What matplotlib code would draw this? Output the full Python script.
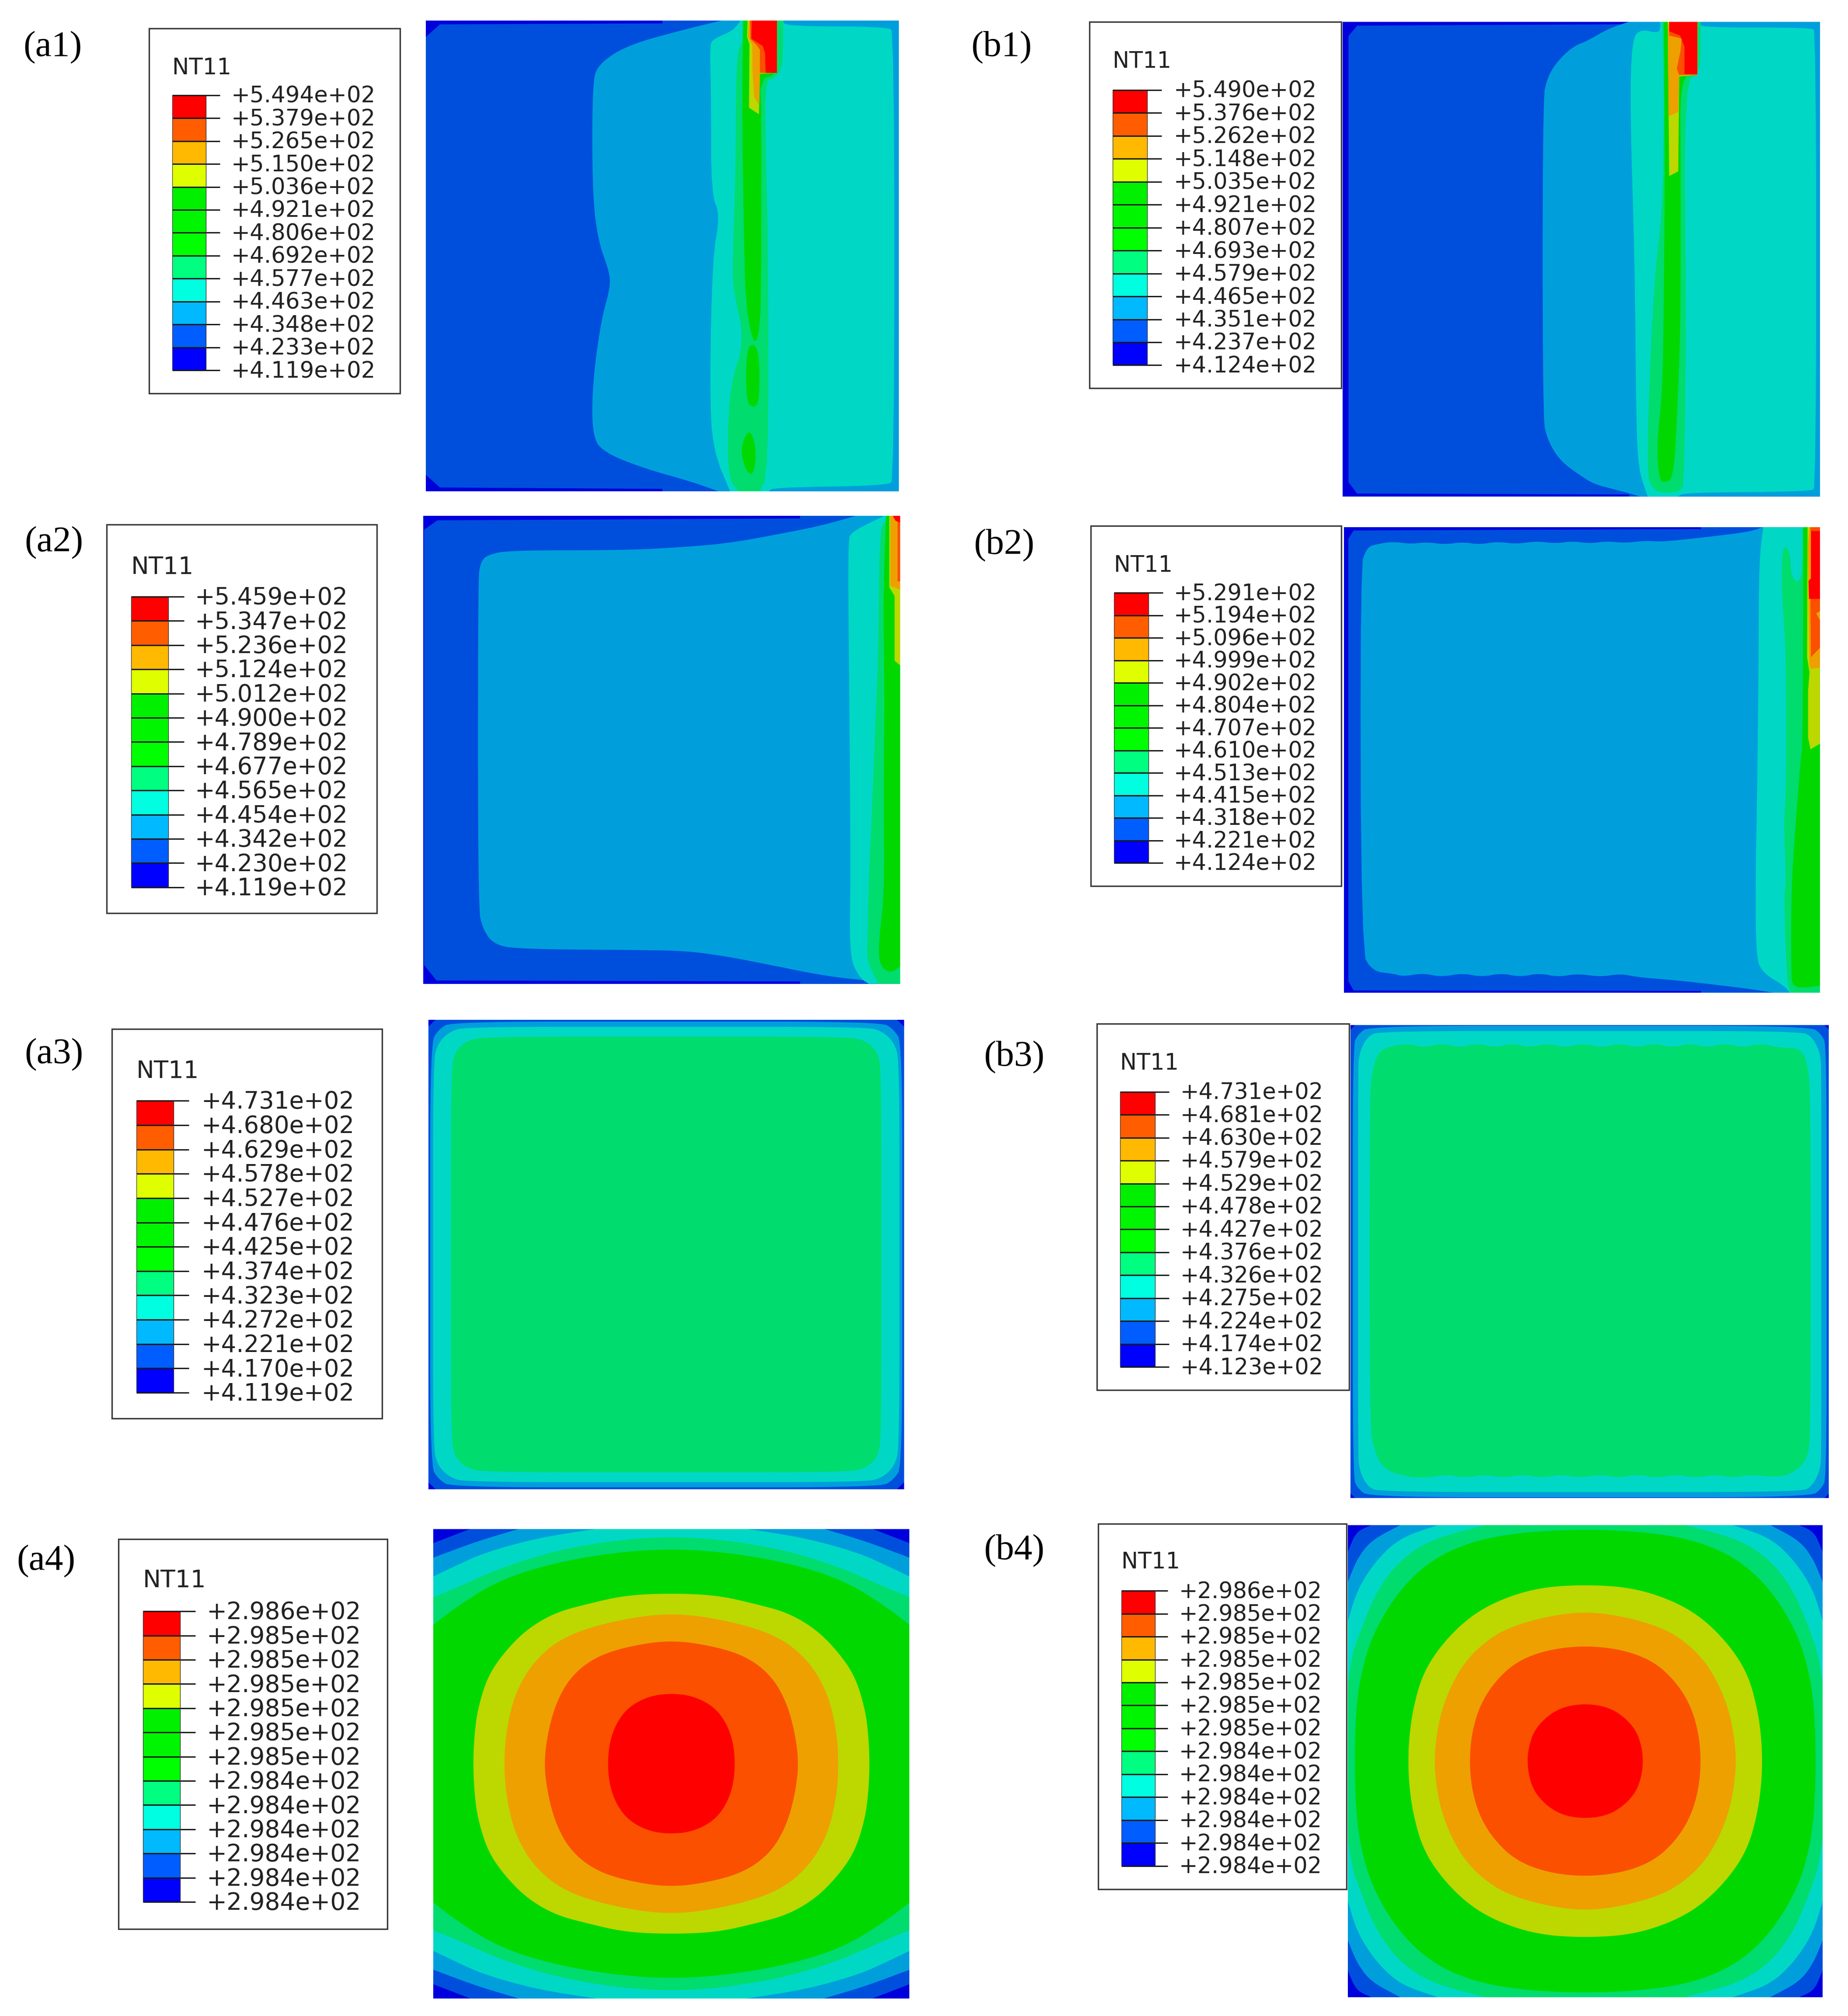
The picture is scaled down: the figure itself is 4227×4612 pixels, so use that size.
import numpy as np
import matplotlib
matplotlib.use("Agg")
import matplotlib.pyplot as plt
from matplotlib.patches import Rectangle

# colours of the contour bands, as they look on the shaded maps
DK = "#0000dc"
B2 = "#004fdc"
MID = "#009fdc"
TEAL = "#00d8c5"
LG = "#00dc6e"
GR = "#00d800"
YG = "#bcd800"
OR = "#eda000"
OR2 = "#fa5000"
RED = "#ff0000"

# legend colours from top to bottom
LEGEND_COLORS = ["#ff0000", "#ff5d00", "#ffb900", "#dfff00", "#00f000", "#00f500",
                 "#00ff00", "#00ff80", "#00ffe0", "#00b9ff", "#005dff", "#0000ff"]

# legend values
A1_LABELS = ["+5.494e+02", "+5.379e+02", "+5.265e+02", "+5.150e+02", "+5.036e+02", "+4.921e+02", "+4.806e+02",
             "+4.692e+02", "+4.577e+02", "+4.463e+02", "+4.348e+02", "+4.233e+02", "+4.119e+02"]
A2_LABELS = ["+5.459e+02", "+5.347e+02", "+5.236e+02", "+5.124e+02", "+5.012e+02", "+4.900e+02", "+4.789e+02",
             "+4.677e+02", "+4.565e+02", "+4.454e+02", "+4.342e+02", "+4.230e+02", "+4.119e+02"]
A3_LABELS = ["+4.731e+02", "+4.680e+02", "+4.629e+02", "+4.578e+02", "+4.527e+02", "+4.476e+02", "+4.425e+02",
             "+4.374e+02", "+4.323e+02", "+4.272e+02", "+4.221e+02", "+4.170e+02", "+4.119e+02"]
A4_LABELS = ["+2.986e+02", "+2.985e+02", "+2.985e+02", "+2.985e+02", "+2.985e+02", "+2.985e+02", "+2.985e+02",
             "+2.984e+02", "+2.984e+02", "+2.984e+02", "+2.984e+02", "+2.984e+02", "+2.984e+02"]
B1_LABELS = ["+5.490e+02", "+5.376e+02", "+5.262e+02", "+5.148e+02", "+5.035e+02", "+4.921e+02", "+4.807e+02",
             "+4.693e+02", "+4.579e+02", "+4.465e+02", "+4.351e+02", "+4.237e+02", "+4.124e+02"]
B2_LABELS = ["+5.291e+02", "+5.194e+02", "+5.096e+02", "+4.999e+02", "+4.902e+02", "+4.804e+02", "+4.707e+02",
             "+4.610e+02", "+4.513e+02", "+4.415e+02", "+4.318e+02", "+4.221e+02", "+4.124e+02"]
B3_LABELS = ["+4.731e+02", "+4.681e+02", "+4.630e+02", "+4.579e+02", "+4.529e+02", "+4.478e+02", "+4.427e+02",
             "+4.376e+02", "+4.326e+02", "+4.275e+02", "+4.224e+02", "+4.174e+02", "+4.123e+02"]
B4_LABELS = ["+2.986e+02", "+2.985e+02", "+2.985e+02", "+2.985e+02", "+2.985e+02", "+2.985e+02", "+2.985e+02",
             "+2.984e+02", "+2.984e+02", "+2.984e+02", "+2.984e+02", "+2.984e+02", "+2.984e+02"]

# contour outlines, in percent of the map (x right, y down)
A1_DK = [(0, 0), (50, 0), (50, 0.6), (3, 0.8), (0, 3.5), (0, 96.5), (3, 99.2), (50, 99.5), (50, 100), (0, 100)]
A1_MID = [(62.5, 0), (55, 1.8), (42.6, 5.2), (36.4, 9.3), (35.2, 13.4), (35.2, 36.6), (36.4, 46.8), (38.9, 53.6),
          (38.9, 57.1), (37, 63.9), (35.2, 77.5), (35.2, 88.4), (37.7, 91.8), (46.3, 95.2), (56.3, 98), (61.8, 100),
          (100, 100), (100, 0)]
A1_TEAL = [(66.5, 0), (65, 2.1), (60.8, 3.9), (60, 5.2), (60.3, 16), (60.3, 36.6), (62.2, 41.4), (60.6, 50.2),
           (60, 77.5), (60.6, 91.1), (64.3, 100), (72.5, 100), (73.5, 99.2), (97.5, 98.8), (99, 97.5), (99, 2.5),
           (97.5, 1.3), (76, 1.2), (75.5, 0)]
A1_LG = [(66.9, 0), (66.9, 5), (66, 6), (65.5, 13), (65.5, 30), (64.9, 50), (64.9, 57), (67.4, 68), (64.3, 77.5),
         (63.7, 91), (64.3, 98), (66.2, 100), (70.5, 100), (72.4, 96.6), (72.4, 50), (71.7, 20), (72, 12.7),
         (73.4, 12.5), (75.5, 10), (75.5, 0)]
A1_GR = [(67.1, 0), (66.9, 12), (66.9, 23), (67.2, 45), (67.6, 60), (69, 68), (70.2, 68), (70.9, 60), (70.9, 20),
         (70.7, 12.5), (74.2, 11.3), (74.2, 0)]
A1_GR_LOBE1 = [(67.7, 70.7), (69, 68.3), (70.5, 70.7), (70.5, 80.9), (69.3, 82.4), (67.7, 80.9)]
A1_GR_LOBE2 = [(68.4, 86.4), (66.4, 91), (67.7, 95.9), (69.3, 96.6), (69.9, 91)]
A1_YG = [(68, 0), (67.9, 3.5), (68.4, 5), (68.3, 18.5), (70.4, 19.9), (70.6, 11.3), (74.2, 11.1), (74.2, 0)]
A1_OR = [(68.3, 0), (68.1, 3.5), (69, 5.2), (69, 10), (69.4, 16.3), (70.4, 17.9), (70.6, 11.1), (74.2, 11.1), (74.2, 0)]
A1_OR2 = [(68.5, 0), (68.6, 3.9), (70, 5.3), (70.6, 6.2), (70.6, 11.1), (74.2, 11.1), (74.2, 0)]
A1_RED = [(68.9, 0), (68.8, 3.85), (71.2, 5.4), (71.7, 7), (71.8, 11.1), (74.2, 11.1), (74.2, 0)]

A2_DK = [(0, 0), (79, 0), (79, 0.6), (3, 1), (0.2, 3), (0.2, 96), (2.8, 99.3), (79, 99.5), (79, 100), (0, 100)]
A2_MID = [(13.4, 8.4), (18, 7.4), (42.3, 7.4), (54.8, 6.7), (63.9, 5.9), (73.8, 4.1), (83.6, 2.1), (90.8, 0), (100, 0),
          (100, 100), (90.8, 99.1), (83.6, 98.2), (73.8, 96.2), (63.9, 94.2), (55.4, 93), (46.9, 92.8), (20, 92.6),
          (14.8, 91.6), (12.5, 88.3), (11.5, 83.7), (11.5, 13.9), (12, 10)]
A2_TEAL = [(96.7, 0), (89.8, 3.4), (89, 5.4), (89.3, 37.6), (89.6, 77), (89.3, 94.2), (91.5, 98.8), (93.4, 100),
           (100, 100), (100, 0)]
A2_LG = [(96.7, 0.8), (95.6, 4), (95.4, 29.7), (94.8, 44), (94.1, 62), (93.4, 77), (93.1, 91.6), (93.1, 95.5),
         (95.4, 100), (100, 100), (100, 0)]
A2_GR = [(97, 0), (96.4, 17.9), (96.7, 37.6), (96.5, 60.7), (96.7, 80.4), (95.4, 91.6), (95.7, 96.2), (98, 97.8),
         (100, 96.2), (100, 0)]
A2_YG = [(97.7, 0), (97.7, 15.3), (98.8, 17.2), (98.8, 31), (100, 32), (100, 0)]
A2_OR = [(97.9, 0), (97.9, 15), (100, 15.8), (100, 0)]
A2_OR2 = [(99.4, 1), (99.4, 14), (100, 14), (100, 1)]
A2_RED = [(98.4, 0), (99, 1.1), (100, 1.5), (100, 0)]

A3_BLUE = [(0, 52), (47.5, 51), (50, 48.5), (52, 0)]
A3_MID = [(0, 49.6), (45, 49.6), (47.8, 48), (49.6, 45), (49.6, 0)]
A3_TEAL = [(0, 48.5), (42, 48.5), (45.5, 47.5), (48, 45), (49, 41), (49, 0)]
A3_LG = [(0, 46.4), (38, 46.4), (42, 45.5), (44.6, 43), (45.2, 38), (45.2, 0)]

A4_BLUE = [(0, 55), (38, 52), (42.3, 50), (50, 47), (53, 40), (55, 0)]
A4_MID = [(0, 55), (28, 52), (32.1, 50), (40.8, 47.4), (50, 43.9), (53, 35), (55, 0)]
A4_TEAL = [(0, 54), (12, 52), (15.9, 50), (27.7, 48.2), (39.2, 45), (45.7, 42), (50, 39.9), (53, 30), (54, 0)]
A4_LG = [(0, 48.4), (11.3, 47.7), (24.4, 45.4), (35.9, 41.7), (44, 38), (50, 35.5), (53, 25), (54, 0)]
A4_GR = [(0, 45.9), (14.5, 44.7), (27.7, 42), (37.5, 38.4), (45.7, 33), (50, 29.6), (53, 20), (54, 0)]
A4_YG = [(0, 36.3), (9.6, 35.9), (17.8, 34), (24.4, 32.2), (30.3, 28.7), (34.9, 24), (38.5, 18.8), (40.5, 12.4),
         (41.3, 7.4), (41.7, 0)]
A4_OR = [(0, 32), (8, 31.2), (17.8, 28.9), (24.4, 25.9), (29.3, 21.2), (32.3, 16), (33.9, 11), (34.9, 5), (35.1, 0)]
A4_OR2 = [(0, 26.4), (9.6, 24.9), (16.2, 22.6), (21.1, 18.6), (24.1, 13.3), (25.9, 7), (26.8, 0)]
A4_RED = [(0, 15), (4.7, 14.4), (9, 12.1), (11.6, 8.6), (13, 4.5), (13.4, 0)]

B1_DK = [(0, 0), (60, 0), (60, 0.5), (3, 0.8), (1.2, 3), (1.2, 97), (3, 99.4), (60, 99.6), (60, 100), (0, 100)]
B1_MID = [(59.9, 0), (55.5, 1.5), (51.5, 3.9), (48.2, 5.2), (44.8, 8.5), (42.8, 11.9), (41.9, 16.5), (41.9, 83.2),
          (42.8, 87.9), (45.5, 92.5), (50.2, 95.9), (52.9, 97.5), (56.9, 98.5), (62.3, 100), (100, 100), (100, 0)]
B1_TEAL = [(62.3, 1.5), (60.6, 3.9), (60.2, 17.9), (61.2, 51.2), (61.5, 84.5), (62, 94.5), (63.9, 100), (70.3, 100),
           (71.5, 99.2), (98, 99), (99.2, 98), (99.2, 2), (98, 1.2), (75, 1.2), (74, 0), (66.5, 0), (66.5, 2.5)]
B1_LG = [(67, 0), (67.3, 17.9), (67, 39.2), (65.3, 54.5), (64.3, 74.5), (63.8, 91.2), (64.3, 99.2), (71, 99.2),
         (71.5, 96.5), (72, 64.5), (71.5, 12.5), (75, 10.9), (75, 0)]
B1_GR = [(67.3, 0), (67.5, 31.2), (67.3, 57.9), (67, 77.9), (65.8, 89.2), (66.3, 96.5), (67.6, 97.2), (69.3, 95.9),
         (70, 84.5), (70.8, 64.5), (70.8, 31.2), (70.7, 11.5), (74.3, 11.2), (74.3, 0)]
B1_YG = [(68.1, 0), (68.4, 32.5), (70.3, 31.5), (70.5, 11.5), (74.3, 11.2), (74.3, 0)]
B1_OR = [(68.1, 0.5), (68.3, 19.9), (70.3, 19), (70.5, 11.2), (74.3, 11.2), (74.3, 0)]
B1_OR2 = [(68.4, 0), (68.4, 2.9), (71, 3.5), (70.8, 6), (70, 9.9), (70.5, 11.2), (74.3, 11.2), (74.3, 0)]
B1_RED = [(68.4, 0), (68.4, 2), (70.7, 2.9), (71.6, 5.2), (71.6, 11), (74.3, 11), (74.3, 0)]

B2_DK = [(0, 0), (75, 0), (75, 0.4), (2, 0.7), (0.9, 2.5), (0.9, 97.5), (2, 99.5), (75, 99.6), (75, 100), (0, 100)]
B2_MID = [(4.8, 4.3), (7, 3.6), (10.3, 3.1), (13.9, 3.6), (17.5, 3.2), (21.1, 3.7), (24.8, 3.2), (28.5, 3.7), (32.2, 3.1),
          (36, 3.6), (40.6, 3), (44.4, 3.5), (48, 3), (51.6, 3.5), (55.2, 3), (59, 3.4), (63, 2.9), (66.8, 3.1), (70.9, 2.7),
          (78, 1.9), (85.5, 0.9), (87.9, 0), (100, 0), (100, 100), (90.3, 100), (85.5, 99.2), (70.9, 97.4), (62, 96.7),
          (58, 95.9), (54, 96.6), (49.1, 95.9), (45, 96.6), (41, 95.8), (37, 96.6), (33, 95.8), (29, 96.6), (24.8, 95.8),
          (20.5, 96.6), (16.5, 95.8), (12.5, 96.5), (10.3, 95.9), (6, 95.4), (3.6, 91.2), (3.4, 8.5)]
B2_TEAL = [(88.1, 0), (87.2, 6.8), (87.1, 30), (86.8, 58.3), (86.5, 72.1), (86.5, 92.6), (88.2, 95.9), (92.5, 98.5),
           (93.7, 100), (100, 100), (100, 0)]
B2_LG = [(92, 6.1), (92, 14.7), (92.7, 24), (92.9, 35.5), (92.9, 57), (92.4, 62.9), (92.9, 76.8), (92.4, 78.7),
         (93.1, 98.5), (94, 100), (100, 100), (100, 0), (96.3, 0), (96.3, 12), (94, 11.1), (93.7, 5.5), (92.6, 3.8)]
B2_GR = [(96.5, 0), (96.4, 46.4), (95.9, 50.4), (94.8, 64.9), (94, 77.4), (93.9, 95.2), (94.3, 99.2), (100, 98.5),
         (100, 0)]
B2_YG = [(97.4, 0), (97.3, 27.9), (97.8, 31.2), (97.5, 35.2), (97.5, 45.1), (98, 47.7), (100, 46.5), (100, 0)]
B2_OR = [(97.8, 0), (97.4, 4.2), (97.8, 29.2), (98, 30.4), (100, 30.2), (100, 0)]
B2_OR2 = [(98, 15.4), (98.1, 27.9), (100, 25.9), (100, 20), (99.2, 18.5), (100, 18), (100, 15.4)]
B2_OR2_TOP = [(98, 0), (98, 0.8), (100, 0.8), (100, 0)]
B2_RED = [(98.1, 0.8), (98.1, 11), (97.6, 11.5), (97.7, 15.4), (100, 15.4), (100, 0.8)]

B3_BLUE = [(0, 52), (48, 51), (50, 49), (52, 0)]
B3_MID = [(0, 49.8), (46, 49.8), (48.5, 48), (49.5, 45.5), (49.5, 0)]
B3_TEAL = [(0, 48.7), (44, 48.7), (46.5, 47.5), (48.2, 44), (48.4, 40), (48.4, 0)]
B3_LG = [(5.5, 6.5), (7, 4.9), (11.7, 3.9), (15.3, 4.8), (19, 3.9), (22.9, 4.8), (26.5, 3.9), (30.2, 4.8), (33.8, 3.9),
         (37.4, 4.8), (41, 3.9), (44.8, 4.8), (48.6, 3.9), (52.4, 4.8), (56.2, 3.9), (59.8, 4.8), (63.5, 3.9), (67.3, 4.8),
         (71, 3.9), (74.6, 4.8), (78.3, 3.9), (82, 4.8), (85.8, 3.9), (89.5, 4.8), (94, 4.9), (95.5, 8), (96.2, 15),
         (96.2, 86), (95.5, 92), (92, 95), (88.5, 95.6), (84, 95), (80, 95.7), (76, 95), (72, 95.7), (68, 95), (64, 95.7),
         (60, 95), (56, 95.7), (52, 95), (48, 95.7), (44, 95), (40, 95.7), (36, 95), (32, 95.7), (28, 95), (24, 95.7),
         (20, 95), (16, 95.7), (12, 95.5), (7, 94), (5, 90), (4, 85), (4, 16), (4.5, 10)]

B4_BLUE = [(0, 55), (42, 53), (45.1, 50), (48.3, 48.6), (50, 44.4), (53, 35), (55, 0)]
B4_MID = [(0, 54), (35, 53), (39, 50), (45.1, 46.8), (48.1, 42.8), (50, 38), (52, 30), (54, 0)]
B4_TEAL = [(0, 54), (25, 53), (31.1, 50), (38.9, 47.4), (44.1, 42.5), (48.1, 36.2), (50, 29.7), (52, 20), (54, 0)]
B4_LG = [(0, 52), (15, 51), (21, 50), (32.3, 47.1), (39.2, 42.5), (44.1, 35.8), (47.4, 27.5), (49.1, 22.6), (50, 16.6),
         (51, 10), (52, 0)]
B4_GR = [(0, 49.2), (14.5, 48.4), (24.4, 46.4), (32.6, 42.5), (39.2, 36.2), (44.5, 27.5), (47.1, 19.3), (48.3, 11),
         (48.6, 0)]
B4_YG = [(0, 37.4), (9.6, 36.8), (17.8, 34.3), (24.4, 30.6), (30.3, 24.7), (34.3, 18.4), (36.3, 11), (37.1, 5), (37.3, 0)]
B4_OR = [(0, 31.7), (8, 30.7), (16.2, 28.3), (21.1, 25.3), (25.4, 21), (28.4, 15.7), (30.4, 10.3), (31.4, 5), (31.8, 0)]
B4_OR2 = [(0, 24.5), (8, 23.6), (14.5, 21.1), (19.1, 16.8), (22.2, 11.8), (23.9, 6), (24.4, 0)]
B4_RED = [(0, 12.2), (4.7, 11.5), (8.2, 9.4), (10.8, 6.4), (11.9, 3), (12.2, 0)]

# layout below is in pixels of the reference at 1/2.942 of its full size
W, H = 1436.8, 1567.7
FIG_W, FIG_H = 42.27, 46.12


def mirror(quarter):
    # quarter curve (dx, dy from centre, top to right side) to a closed outline
    q = np.array(quarter, dtype=float)
    tr = np.column_stack([50 + q[:, 0], 50 - q[:, 1]])
    br = np.column_stack([50 + q[::-1, 0], 50 + q[::-1, 1]])[1:]
    bl = np.column_stack([50 - q[:, 0], 50 + q[:, 1]])[1:]
    tl = np.column_stack([50 - q[::-1, 0], 50 - q[::-1, 1]])[1:-1]
    return np.vstack([tr, br, bl, tl])


def smooth(poly, n=3):
    # corner cutting so outlines do not look faceted; points on the map border stay put
    p = np.array(poly, dtype=float)
    for _ in range(n):
        out = []
        for i in range(len(p)):
            a, b = p[i], p[(i + 1) % len(p)]
            a_fixed = a[0] <= 0 or a[0] >= 100 or a[1] <= 0 or a[1] >= 100
            b_fixed = b[0] <= 0 or b[0] >= 100 or b[1] <= 0 or b[1] >= 100
            out.append(a if a_fixed else 0.75 * a + 0.25 * b)
            out.append(b if b_fixed else 0.25 * a + 0.75 * b)
        p = np.array(out)
    return p


def add_rect(x0, y0, x1, y1):
    return fig.add_axes([x0 / W, 1 - y1 / H, (x1 - x0) / W, (y1 - y0) / H])


def draw_map(rect, base, layers):
    ax = add_rect(*rect)
    ax.set_xlim(0, 100)
    ax.set_ylim(100, 0)
    ax.axis("off")
    ax.add_patch(Rectangle((0, 0), 100, 100, color=base, lw=0))
    for color, poly in layers:
        p = np.array(poly)
        ax.fill(p[:, 0], p[:, 1], color=color, lw=0)


def draw_legend(box, bar, labels_x, labels_right, title_y, labels):
    canvas.add_patch(Rectangle((box[0], box[1]), box[2] - box[0], box[3] - box[1], fc="white", ec="#3a3a3a",
                               lw=2.4, zorder=5))
    size = 37 * (labels_right - labels_x) / 113.0
    canvas.text(bar[0], title_y + 1, "NT11", fontsize=size, ha="left", va="center", color="#222222", zorder=6)
    tick_end = bar[2]
    ax = add_rect(bar[0], bar[1], tick_end, bar[3])
    ax.set_zorder(7)
    ax.set_xlim(bar[0], tick_end)
    ax.set_ylim(12, 0)
    ax.axis("off")
    for i, c in enumerate(LEGEND_COLORS):
        ax.bar(bar[0], 1, width=bar[4] - bar[0], bottom=i, align="edge", color=c, edgecolor="none")
    ax.hlines(range(13), bar[0], tick_end, color="#1a1a1a", lw=2.2, clip_on=False)
    ax.vlines([bar[0], bar[4]], 0, 12, color="#333333", lw=1.0)
    step = (bar[3] - bar[1]) / 12.0
    for i, lab in enumerate(labels):
        canvas.text(labels_x - 0.5, bar[1] + i * step + 1, lab, fontsize=size, ha="left", va="center",
                    color="#222222", zorder=8)


fig = plt.figure(figsize=(FIG_W, FIG_H), dpi=100, facecolor="white")

canvas = fig.add_axes([0, 0, 1, 1])
canvas.set_xlim(0, W)
canvas.set_ylim(H, 0)
canvas.axis("off")

draw_map((331, 16, 699, 382), B2, [(DK, A1_DK), (MID, smooth(A1_MID)), (TEAL, smooth(A1_TEAL, 2)), (LG, smooth(A1_LG, 2)),
                                   (GR, smooth(A1_GR, 1)), (GR, smooth(A1_GR_LOBE1)), (GR, smooth(A1_GR_LOBE2)),
                                   (YG, A1_YG), (OR, A1_OR), (OR2, A1_OR2), (RED, A1_RED)])
draw_map((329, 401, 700, 765), B2, [(DK, A2_DK), (MID, smooth(A2_MID)), (TEAL, smooth(A2_TEAL)), (LG, smooth(A2_LG)),
                                    (GR, smooth(A2_GR)), (YG, A2_YG), (OR, A2_OR), (OR2, A2_OR2), (RED, A2_RED)])
draw_map((333, 793, 703, 1158), DK, [(B2, smooth(mirror(A3_BLUE))), (MID, smooth(mirror(A3_MID))),
                                     (TEAL, smooth(mirror(A3_TEAL))), (LG, smooth(mirror(A3_LG)))])
draw_map((337, 1189, 707, 1554), DK, [(c, smooth(mirror(q), 3)) for c, q in
                                      [(B2, A4_BLUE), (MID, A4_MID), (TEAL, A4_TEAL), (LG, A4_LG), (GR, A4_GR),
                                       (YG, A4_YG), (OR, A4_OR), (OR2, A4_OR2), (RED, A4_RED)]])
draw_map((1044, 17, 1415, 386), B2, [(DK, B1_DK), (MID, smooth(B1_MID)), (TEAL, smooth(B1_TEAL, 2)), (LG, smooth(B1_LG, 2)),
                                     (GR, smooth(B1_GR, 2)), (YG, B1_YG), (OR, B1_OR), (OR2, B1_OR2), (RED, B1_RED)])
draw_map((1045, 410, 1415, 772), B2, [(DK, B2_DK), (MID, smooth(B2_MID, 2)), (TEAL, smooth(B2_TEAL)), (LG, smooth(B2_LG, 2)),
                                      (GR, smooth(B2_GR, 2)), (YG, B2_YG), (OR, B2_OR), (OR2, B2_OR2),
                                      (OR2, B2_OR2_TOP), (RED, B2_RED)])
draw_map((1050, 797, 1422, 1165), DK, [(B2, smooth(mirror(B3_BLUE))), (MID, smooth(mirror(B3_MID))),
                                       (TEAL, smooth(mirror(B3_TEAL))), (LG, smooth(B3_LG, 2))])
draw_map((1048, 1186, 1417, 1553), DK, [(c, smooth(mirror(q), 3)) for c, q in
                                        [(B2, B4_BLUE), (MID, B4_MID), (TEAL, B4_TEAL), (LG, B4_LG), (GR, B4_GR),
                                         (YG, B4_YG), (OR, B4_OR), (OR2, B4_OR2), (RED, B4_RED)]])

# legends go on the canvas above the maps, the b column boxes touch the maps
canvas.set_zorder(6)
canvas.patch.set_alpha(0)

draw_legend((116, 22, 311, 306), (134, 74, 171, 288, 160), 180, 293, 52, A1_LABELS)
draw_legend((83, 408, 293, 710), (102, 464, 143, 690, 131), 152, 272, 440, A2_LABELS)
draw_legend((87, 800, 297, 1103), (106, 856, 147, 1083, 135), 157, 277, 832, A3_LABELS)
draw_legend((92, 1197, 301, 1500), (111, 1253, 152, 1479, 140), 161, 282, 1228, A4_LABELS)
draw_legend((847, 17, 1043, 302), (865, 70, 903, 284, 892), 913, 1025, 47, B1_LABELS)
draw_legend((848, 409, 1043, 689), (866, 461, 904, 671, 893), 913, 1025, 439, B2_LABELS)
draw_legend((853, 796, 1049, 1081), (871, 849, 909, 1063, 898), 918, 1030, 826, B3_LABELS)
draw_legend((854, 1185, 1047, 1469), (872, 1237, 908, 1451, 898), 917, 1029, 1214, B4_LABELS)

panel_names = ["(a1)", "(a2)", "(a3)", "(a4)", "(b1)", "(b2)", "(b3)", "(b4)"]
panel_x = [18, 19, 19, 13, 755, 757, 765, 765]
panel_y = [37, 422, 820, 1214, 37, 424, 822, 1206]
for name, x, y in zip(panel_names, panel_x, panel_y):
    canvas.text(x, y, name, fontsize=60, family="Liberation Serif", ha="left", va="center", color="black")

fig.savefig("out.png", dpi=100)
